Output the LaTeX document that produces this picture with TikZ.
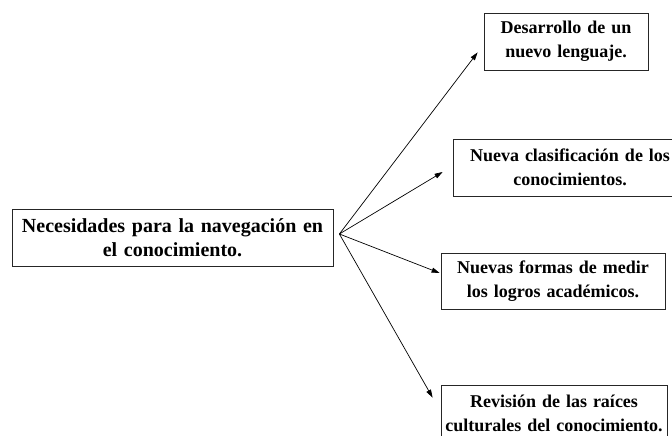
\documentclass[tikz,border=0pt]{standalone}
\usepackage{fontspec}
\setmainfont{Liberation Serif}
\usetikzlibrary{arrows.meta,calc}
\begin{document}
\begin{tikzpicture}[x=1pt,y=1pt,
  box/.style={draw=black!85, line width=0.8pt, align=center, inner sep=0pt, minimum height=57pt},
  hubtext/.style={font=\bfseries\fontsize{20}{24}\selectfont},
  leaftext/.style={font=\bfseries\fontsize{18}{24}\selectfont},
  conn/.style={line width=0.7pt, -{Triangle[length=8pt,width=5pt]}}]
\useasboundingbox (0,0) rectangle (672,-436);
\clip (0,0) rectangle (672,-436);
\node[box, hubtext, minimum width=321pt, text width=321pt] (hub) at (172.5,-237.5)
  {Necesidades para la navegación en\\el conocimiento.};
\node[box, leaftext, minimum width=164pt, text width=164pt] (b1) at (566,-41.5)
  {Desarrollo de un\\nuevo lenguaje.};
\node[box, leaftext, minimum width=234pt, text width=234pt] (b2) at (570,-167.5)
  {Nueva clasificación de los\\conocimientos.};
\node[box, leaftext, minimum width=224pt, text width=224pt, minimum height=56pt] (b3) at (553,-281)
  {Nuevas formas de medir\\los logros académicos.};
\node[box, leaftext, minimum width=226pt, text width=226pt, minimum height=56pt] (b4) at (554,-413)
  {Revisión de las raíces\\culturales del conocimiento.};
\coordinate (hc) at ($(hub.east)+(6,3.5)$);
\coordinate (t1) at ($(b1.south west)+(-6,18)$);
\coordinate (t2) at ($(b2.west)+(-10,-4.5)$);
\coordinate (t3) at ($(b3.west)+(-1,8)$);
\coordinate (t4) at ($(b4.north west)+(-8,-13)$);
\draw[conn] (hc) -- (t1);
\draw[conn] (hc) -- (t2);
\draw[conn] (hc) -- (t3);
\draw[conn] (hc) -- (t4);
\end{tikzpicture}
\end{document}
